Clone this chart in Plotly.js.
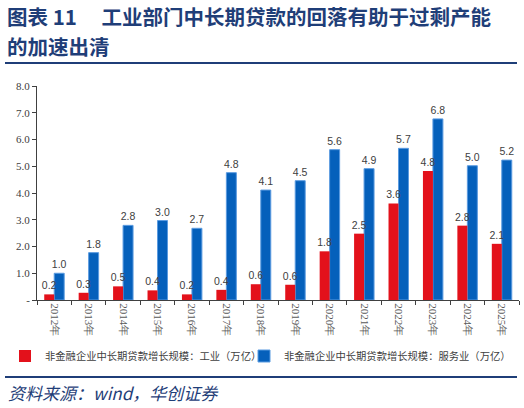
<!DOCTYPE html>
<html>
<head>
<meta charset="utf-8">
<script src="https://cdn.plot.ly/plotly-3.0.1.min.js"></script>
<style>
html,body{margin:0;padding:0;background:#fff;}
#chart{width:524px;height:408px;}
</style>
</head>
<body>
<div id="chart"></div>
<script>
const years = ["2012年","2013年","2014年","2015年","2016年","2017年","2018年","2019年","2020年","2021年","2022年","2023年","2024年","2025年"];
const industry = [0.21,0.27,0.51,0.36,0.21,0.38,0.59,0.57,1.82,2.48,3.61,4.82,2.78,2.10];
const services = [1.00,1.77,2.79,2.97,2.68,4.76,4.11,4.46,5.62,4.91,5.67,6.77,5.02,5.23];
const yTickVals = [0,1,2,3,4,5,6,7,8];
const yTickText = ["-","1.0","2.0","3.0","4.0","5.0","6.0","7.0","8.0"];
const nameIndustry = "非金融企业中长期贷款增长规模：工业（万亿）";
const nameServices = "非金融企业中长期贷款增长规模：服务业（万亿）";
const titleLine1 = "图表 11　\u2009工业部门中长期贷款的回落有助于过剩产能";
const titleLine2 = "的加速出清";
const sourceText = "资料来源：wind，华创证券";

const navy = "#1f3e78";
const labelFont = {family:"Liberation Sans, Arial, sans-serif", size:10.5, color:"#404040"};
const legendFont = {family:"Noto Sans CJK SC, sans-serif", size:10.3, color:"#404040"};
const barW = 0.29;

const traces = [
  {type:"bar", name:nameServices, x:years, y:services, legend:"legend2",
   width:barW, offset:0,
   marker:{color:"#0560bb", line:{color:"#5b9be0", width:1}}, texttemplate:"%{y:.1f}", textposition:"outside", constraintext:"none",
   textfont:labelFont, cliponaxis:false, hoverinfo:"skip"},
  {type:"bar", name:nameIndustry, x:years, y:industry, legend:"legend",
   width:barW, offset:-barW,
   marker:{color:"#e3111b"}, texttemplate:"%{y:.1f}", textposition:"outside", constraintext:"none",
   textfont:labelFont, cliponaxis:false, hoverinfo:"skip"}
];

const L = 37, T = 86, W = 482, H = 214;
function px2x(p){return (p-L)/W;}
function py2y(p){return (T+H-p)/H;}

const layout = {
  width:524, height:408,
  margin:{l:L, r:524-L-W, t:T, b:408-T-H, pad:0, autoexpand:false},
  paper_bgcolor:"#fff", plot_bgcolor:"#fff",
  barmode:"overlay",
  showlegend:true,
  legend:{orientation:"h", x:px2x(5), xanchor:"left", y:py2y(356), yanchor:"middle",
          font:legendFont, itemwidth:30, bgcolor:"rgba(0,0,0,0)"},
  legend2:{orientation:"h", x:px2x(244), xanchor:"left", y:py2y(356), yanchor:"middle",
          font:legendFont, itemwidth:30, bgcolor:"rgba(0,0,0,0)"},
  xaxis:{type:"category", tickangle:90, tickson:"boundaries", ticks:"outside", ticklen:4,
         tickcolor:"#404040", showline:true, linecolor:"#404040", linewidth:1,
         showgrid:false, zeroline:false,
         tickfont:{family:"Liberation Serif, DejaVu Serif, serif", size:11, color:"#595959"}},
  yaxis:{range:[0,8], tickvals:yTickVals, ticktext:yTickText, ticks:"outside", ticklen:4,
         tickcolor:"#404040", showline:true, linecolor:"#404040", linewidth:1,
         showgrid:false, zeroline:false,
         tickfont:{family:"Liberation Serif, DejaVu Serif, serif", size:11, color:"#404040"}},
  annotations:[
    {text:"<b>"+titleLine1+"</b>", xref:"paper", yref:"paper", x:px2x(5), y:py2y(16), xanchor:"left", yanchor:"middle",
     showarrow:false, font:{family:"Noto Sans CJK SC, sans-serif", size:20.5, color:navy}},
    {text:"<b>"+titleLine2+"</b>", xref:"paper", yref:"paper", x:px2x(5), y:py2y(46), xanchor:"left", yanchor:"middle",
     showarrow:false, font:{family:"Noto Sans CJK SC, sans-serif", size:20.5, color:navy}},
    {text:"<i>"+sourceText+"</i>", xref:"paper", yref:"paper", x:px2x(6), y:py2y(392), xanchor:"left", yanchor:"middle",
     showarrow:false, font:{family:"Noto Sans CJK SC, sans-serif", size:17, color:navy}}
  ],
  shapes:[
    {type:"line", xref:"paper", yref:"paper", x0:px2x(5), x1:px2x(517), y0:py2y(63), y1:py2y(63),
     line:{color:navy, width:2}},
    {type:"line", xref:"paper", yref:"paper", x0:px2x(5), x1:px2x(517), y0:py2y(377), y1:py2y(377),
     line:{color:navy, width:2}}
  ]
};

Plotly.newPlot("chart", traces, layout, {displayModeBar:false, staticPlot:true});
</script>
</body>
</html>
